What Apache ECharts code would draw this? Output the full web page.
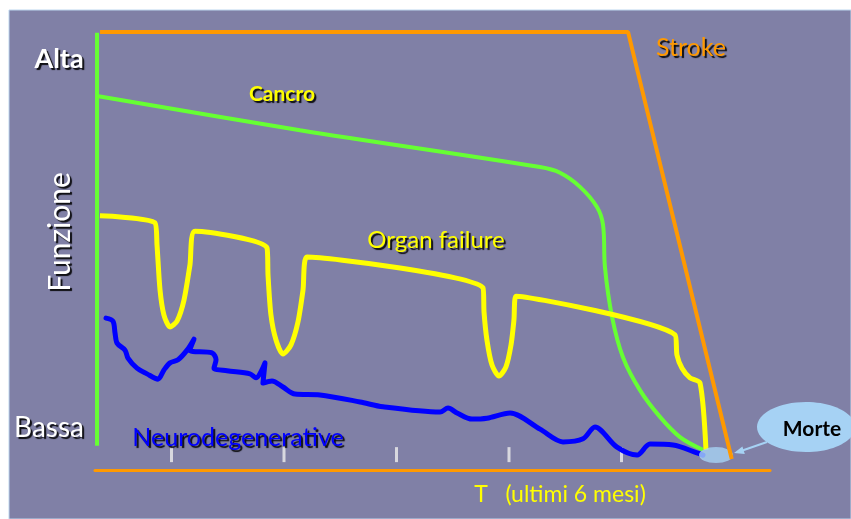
<!DOCTYPE html>
<html>
<head>
<meta charset="utf-8">
<script src="https://cdn.jsdelivr.net/npm/echarts@6/dist/echarts.min.js"></script>
<style>
  html, body { margin: 0; padding: 0; background: #fff; }
  #chart { width: 851px; height: 519px; }
</style>
</head>
<body>
<div id="chart"></div>
<script>
// asse x: mesi (0..6, 6 = morte), asse y: funzione (0 bassa .. 100 alta)
const strokeData = [[0.365, 99.8], [5.058, 99.8], [5.98, 2.5]]

const asseFunzione = [[0.338, 99.6], [0.338, 5.5]]

const cancroData = [
  [0.338, 85.2], [2.142, 77.4], [4.276, 69.0], [4.453, 67.7], [4.631, 64.5],
  [4.782, 59.9], [4.836, 55.8], [4.853, 46.2], [4.916, 34.9], [5.013, 25.7],
  [5.164, 18.2], [5.342, 12.1], [5.520, 7.5], [5.724, 4.6]
]

const organFailureData = [
  [0.364, 57.9], [0.853, 56.3], [0.871, 51.3], [0.898, 41.0], [0.933, 35.3],
  [0.987, 32.6], [1.049, 33.9], [1.111, 38.7], [1.164, 46.7], [1.209, 54.4],
  [1.849, 50.6], [1.858, 44.4], [1.884, 35.3], [1.929, 29.6], [1.991, 26.4],
  [2.062, 28.5], [2.124, 33.7], [2.169, 41.0], [2.204, 48.5],
  [3.769, 41.5], [3.778, 36.0], [3.804, 29.6], [3.849, 23.9], [3.911, 21.4],
  [3.973, 23.5], [4.018, 28.5], [4.044, 34.2], [4.062, 39.6],
  [5.476, 30.8], [5.493, 26.2], [5.538, 23.2], [5.609, 21.0], [5.698, 19.8],
  [5.751, 4.6]
]

const neuroData = [
  [0.418, 34.6], [0.480, 33.9], [0.498, 31.2], [0.516, 28.9], [0.587, 27.3],
  [0.613, 25.5], [0.693, 23.2], [0.782, 21.9], [0.880, 20.7], [0.933, 22.8],
  [0.987, 24.4], [1.058, 25.1], [1.138, 27.3], [1.200, 29.8], [1.164, 27.3],
  [1.360, 26.7], [1.396, 25.1], [1.378, 23.2], [1.493, 22.6], [1.698, 21.9],
  [1.751, 21.0], [1.831, 24.4], [1.813, 19.8], [1.893, 20.3], [1.991, 18.9],
  [2.098, 17.3], [2.320, 17.1], [2.676, 15.5], [2.880, 14.4], [3.387, 13.2],
  [3.458, 14.1], [3.538, 13.0], [3.671, 11.6], [3.804, 11.8], [4.009, 13.0],
  [4.276, 9.3], [4.480, 6.4], [4.658, 7.1], [4.764, 9.8], [4.960, 5.2],
  [5.138, 3.4], [5.253, 5.9], [5.458, 5.7], [5.671, 3.9], [5.724, 3.4]
]

// tacche dei mesi
const mesiTicks = [1, 2, 3, 4, 5]
const tickY = 3.5

// punto della morte
const mortePoint = [[5.84, 3.4]]

const bg = '#8080a6'
const azzurro = '#a6d2f4'
const font = 'Lato, "Open Sans", sans-serif'

// testo con ombra nera
const label = (text, x, y, color, size, weight, rotation) => ({
  type: 'text',
  x: x,
  y: y,
  rotation: rotation || 0,
  z: 100,
  style: {
    text: text,
    fill: color,
    font: `${weight || 'normal'} ${size}px ${font}`,
    align: 'center',
    verticalAlign: 'middle',
    textShadowColor: 'rgba(0,0,0,0.9)',
    textShadowOffsetX: 2,
    textShadowOffsetY: 2,
    textShadowBlur: 1
  }
})

const chart = echarts.init(document.getElementById('chart'))

const option = {
  animation: false,
  backgroundColor: '#fff',
  grid: { left: 95, right: 81, top: 31, bottom: 49 },
  xAxis: {
    type: 'value',
    min: 0.32,
    max: 6.32,
    axisLine: { show: true, lineStyle: { color: '#ff9900', width: 3 } },
    axisTick: { show: false },
    axisLabel: { show: false },
    splitLine: { show: false }
  },
  yAxis: {
    type: 'value',
    min: 0,
    max: 100,
    show: false
  },
  graphic: [
    // sfondo della diapositiva
    {
      type: 'rect',
      z: -10,
      shape: { x: 9, y: 10, width: 842, height: 509 },
      style: { fill: bg, stroke: '#bcd6ee', lineWidth: 1 }
    },
    label('Alta', 59, 59, '#fff', 27, 'bold'),
    label('Funzione', 60, 232, '#fff', 30, 'normal', Math.PI / 2),
    label('Bassa', 49, 428, '#fff', 28),
    label('Cancro', 282, 94, '#ffff00', 21, 'bold'),
    label('Organ failure', 436, 240, '#ffff00', 24),
    label('Stroke', 691, 48, '#ff9900', 25),
    label('Neurodegenerative', 238, 438, '#0000ff', 25),
    {
      type: 'text',
      x: 560,
      y: 495,
      z: 100,
      style: {
        text: 'T   (ultimi 6 mesi)',
        fill: '#ffff00',
        font: `23px ${font}`,
        align: 'center',
        verticalAlign: 'middle'
      }
    },
    // fumetto "Morte"
    {
      type: 'ellipse',
      z: 90,
      shape: { cx: 806, cy: 427, rx: 49, ry: 25 },
      style: { fill: azzurro }
    },
    {
      type: 'text',
      x: 812,
      y: 429,
      z: 100,
      style: {
        text: 'Morte',
        fill: '#000',
        font: `bold 21px ${font}`,
        align: 'center',
        verticalAlign: 'middle'
      }
    },
    {
      type: 'line',
      z: 90,
      shape: { x1: 767, y1: 442, x2: 741, y2: 451 },
      style: { stroke: azzurro, lineWidth: 2 }
    },
    {
      type: 'polygon',
      z: 90,
      shape: { points: [[734, 453], [744.8, 454.1], [742.4, 446.5]] },
      style: { fill: azzurro }
    }
  ],
  series: [
    {
      name: 'Neurodegenerative',
      type: 'line',
      data: neuroData,
      symbol: 'none',
      smooth: 0.3,
      lineStyle: { color: '#0000ff', width: 5, cap: 'round', join: 'round' },
      z: 3
    },
    {
      name: 'Asse',
      type: 'line',
      data: asseFunzione,
      symbol: 'none',
      lineStyle: { color: '#66ff33', width: 4 },
      z: 2
    },
    {
      name: 'Cancro',
      type: 'line',
      data: cancroData,
      symbol: 'none',
      smooth: 0.35,
      lineStyle: { color: '#66ff33', width: 4 },
      z: 4
    },
    {
      name: 'Organ failure',
      type: 'line',
      data: organFailureData,
      symbol: 'none',
      smooth: 0.25,
      lineStyle: { color: '#ffff00', width: 5, join: 'round' },
      z: 5
    },
    {
      name: 'Morte',
      type: 'scatter',
      data: mortePoint,
      symbol: 'circle',
      symbolSize: [34, 16],
      itemStyle: { color: azzurro },
      z: 6
    },
    {
      name: 'Stroke',
      type: 'line',
      data: strokeData,
      symbol: 'none',
      lineStyle: { color: '#ff9900', width: 4 },
      z: 7
    },
    {
      name: 'Mesi',
      type: 'scatter',
      data: mesiTicks.map(m => [m, tickY]),
      symbol: 'rect',
      symbolSize: [3, 15],
      itemStyle: { color: '#eeeeee' },
      z: 1
    }
  ]
}

chart.setOption(option)
</script>
</body>
</html>
